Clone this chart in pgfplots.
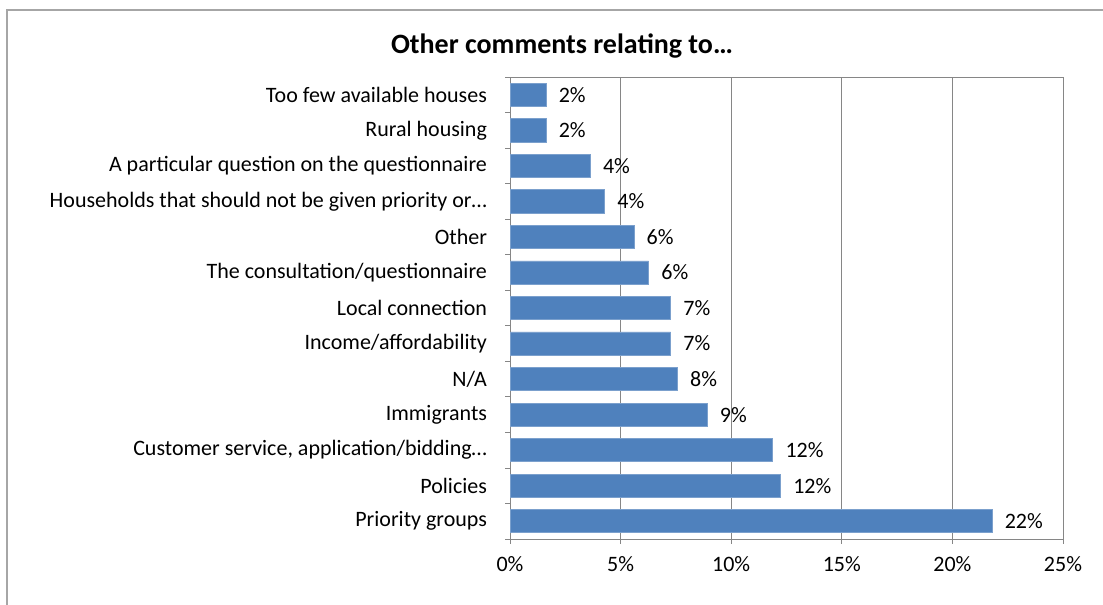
\documentclass[border=0pt]{standalone}
\usepackage{pgfplots}
\pgfplotsset{compat=1.18}
\usepackage{pgfplotstable}
\usepackage{fontspec}
\setmainfont{Carlito}
\definecolor{barblue}{HTML}{4F81BD}
\definecolor{gridgray}{HTML}{868686}
\definecolor{framegray}{HTML}{A6A6A6}
\pgfplotstableread{
y x lab
0 21.79 22
1 12.23 12
2 11.88 12
3 8.91 9
4 7.57 8
5 7.26 7
6 7.26 7
7 6.27 6
8 5.60 6
9 4.28 4
10 3.63 4
11 1.63 2
12 1.63 2
}\datatable
\begin{document}
\begin{tikzpicture}[x=1pt,y=1pt]
\useasboundingbox (0,0) rectangle (827.25,453.75);
\draw[framegray, line width=1.3pt] (5.25,0) -- (5.25,446.25) -- (827.25,446.25);
\node[font=\bfseries\fontsize{21}{25}\selectfont] at (421.5,419) {Other comments relating to…};
\begin{axis}[
  at={(382.5pt,49.5pt)}, anchor=south west,
  width=414.75pt, height=346.5pt, scale only axis,
  xmin=0, xmax=25, ymin=-0.5, ymax=12.5,
  tick pos=left,
  xtick={0,5,10,15,20,25},
  xticklabel={\pgfmathprintnumber{\tick}\%},
  /pgf/number format/assume math mode=true,
  xmajorgrids, grid style={gridgray, line width=0.6pt},
  axis line style={gridgray, line width=0.6pt},
  tick align=outside,
  major tick length=3.75pt,
  tick style={gridgray, line width=0.6pt},
  ytick={-0.5,0.5,...,12.5},
  yticklabels={,Priority groups, Policies, {Customer service, application/bidding…}, Immigrants, N/A, Income/affordability, Local connection, The consultation/questionnaire, Other, Households that should not be given priority or…, A particular question on the questionnaire, Rural housing, Too few available houses},
  ticklabel style={font=\fontsize{16.5}{19}\selectfont},
  yticklabel style={xshift=-10pt, yshift=-13.33pt},
  xticklabel style={yshift=-6pt},
  nodes near coords style={font=\fontsize{16.5}{19}\selectfont, text=black},
]
\addplot[xbar, bar width=0.65, fill=barblue, draw=barblue!75!white, line width=0.5pt,
  point meta=explicit symbolic,
  nodes near coords={\pgfplotspointmeta\%},
  nodes near coords style={anchor=west, xshift=6pt}]
  table[x=x, y=y, meta=lab]{\datatable};
\end{axis}
\end{tikzpicture}
\end{document}
